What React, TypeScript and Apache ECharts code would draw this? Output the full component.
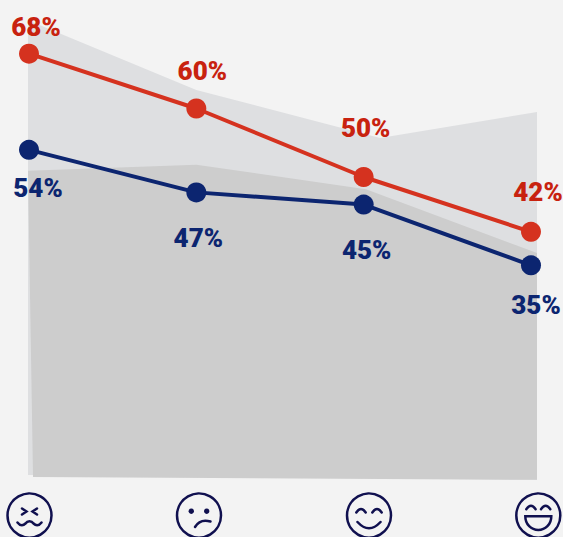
import React, { useEffect, useRef } from "react";
import * as echarts from "echarts";

// Survey share per mood step, worst to best.
const moodSteps = [0, 1, 2, 3];
const redValues = [68, 60, 50, 42];
const blueValues = [54, 47, 45, 35];

// Backdrop silhouettes as [step, share] outlines.
const lightArea = [
  [-0.006, 72.9], [1, 62.7], [2.098, 55.7], [3.036, 59.5], [3.036, 5.8], [-0.006, 6.5],
];
const darkArea = [
  [-0.006, 50.9], [1, 51.8], [2.014, 48.2], [3.036, 38.9], [3.036, 5.8], [0.024, 6.2],
];

const RED = "#d5321f";
const RED_TEXT = "#c8220f";
const BLUE = "#0c2570";
const FACE = "#10104f";

const redLabelOffsets = [[7, -27], [6, -38], [2, -49], [7, -40]];
const blueLabelOffsets = [[9, 38], [2, 46], [3, 45.5], [5, 40]];

const faces = [
  {
    cx: 29.5,
    d: "M-7.5,-7 L-3,-4 L-7.5,-1 M7.5,-7 L3,-4 L7.5,-1 M-12,7 C-9,11 -6,10 -4,8 C-2,5 2,5 4,8 C6,10 9,11 12,7",
    dots: [] as number[][],
  },
  { cx: 199, d: "M-4,11.5 Q1,3 11.5,6", dots: [[-7.7, -4.3], [7.7, -4.3]] },
  {
    cx: 369,
    d: "M-12.7,-3 Q-8,-10 -3.3,-3 M3.3,-3 Q8,-10 12.7,-3 M-11.5,6.5 Q0,19 11.5,6.5",
    dots: [],
  },
  {
    cx: 538.3,
    d: "M-12,-6.3 Q-7.3,-13 -2.7,-6.3 M2.7,-6.3 Q7.3,-13 12,-6.3 M-13,0.7 L13,0.7 C13,9 7,14.5 0,14.5 C-7,14.5 -13,9 -13,0.7 Z",
    dots: [],
  },
];

faces.forEach((f, i) => {
  echarts.graphic.registerShape("face" + i, echarts.graphic.extendPath(f.d, {}) as any);
});

const areaSeries = (outline: number[][], color: string) => ({
  type: "custom",
  coordinateSystem: "cartesian2d",
  xAxisIndex: 0,
  yAxisIndex: 0,
  silent: true,
  clip: false,
  data: [[0, 0]],
  renderItem: (_: unknown, api: any) => ({
    type: "polygon",
    shape: { points: outline.map((p) => api.coord(p)) },
    style: { fill: color },
  }),
});

const lineSeries = (
  values: number[],
  offsets: number[][],
  axis: number,
  color: string,
  textColor: string
) => ({
  type: "line",
  xAxisIndex: 0,
  yAxisIndex: axis,
  symbol: "circle",
  symbolSize: 20,
  silent: true,
  lineStyle: { color, width: 4 },
  itemStyle: { color },
  data: moodSteps.map((step, i) => ({
    value: [step, values[i]],
    label: {
      show: true,
      position: "inside",
      offset: offsets[i],
      formatter: values[i] + "%",
      color: textColor,
      fontFamily: "Roboto",
      fontWeight: 900,
      fontSize: 26,
    },
  })),
});

export default function App() {
  const ref = useRef<HTMLDivElement>(null);

  useEffect(() => {
    const chart = echarts.init(ref.current!, undefined, { renderer: "svg" });
    chart.setOption({
      animation: false,
      backgroundColor: "#f3f3f3",
      grid: { left: 0, top: 0, width: 563, height: 537 },
      xAxis: { type: "value", min: -0.1733, max: 3.1913, show: false },
      yAxis: [
        { type: "value", min: -2.55, max: 75.84, show: false },
        { type: "value", min: -9.68, max: 78.64, show: false },
      ],
      series: [
        areaSeries(lightArea, "#dedfe1"),
        areaSeries(darkArea, "#cdcdcd"),
        lineSeries(redValues, redLabelOffsets, 0, RED, RED_TEXT),
        lineSeries(blueValues, blueLabelOffsets, 1, BLUE, BLUE),
      ],
      graphic: faces.map((f, i) => ({
        type: "group",
        x: f.cx,
        y: 515.5,
        silent: true,
        children: [
          {
            type: "circle",
            shape: { cx: 0, cy: 0, r: 22 },
            style: { fill: "none", stroke: FACE, lineWidth: 2.5 },
          },
          {
            type: "face" + i,
            style: { fill: "none", stroke: FACE, lineWidth: 2.5, lineCap: "round" },
          },
          ...f.dots.map((d) => ({
            type: "circle",
            shape: { cx: d[0], cy: d[1], r: 2.7 },
            style: { fill: FACE },
          })),
        ],
      })),
    });
    return () => chart.dispose();
  }, []);

  return (
    <div
      ref={ref}
      style={{ position: "fixed", left: 0, top: 0, width: 563, height: 537 }}
    />
  );
}
